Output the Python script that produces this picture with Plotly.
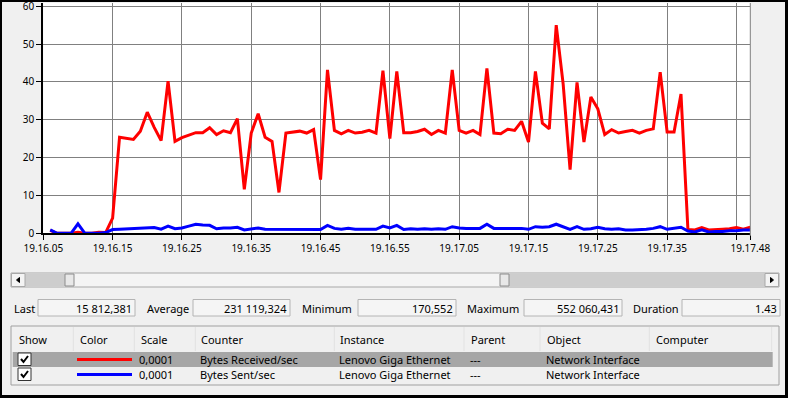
import plotly.graph_objects as go

W, H = 788, 398
def px(x): return x / W
def py(y): return 1 - y / H

# ---------------- data ----------------
seconds = list(range(1, 103))
bytes_received = [0.8, 0, 0, 0, 0.3, 0, 0, 0.3, 0.2, 4,
                  25.4, 25.2, 24.8, 27, 32, 28, 24.5, 40.2, 24.3, 25.3,
                  26, 26.6, 26.6, 27.9, 26.1, 27.1, 26.6, 30.3, 11.6, 26.5,
                  31.6, 25.4, 24.3, 10.8, 26.5, 26.8, 27, 26.5, 27.4, 14.2,
                  43.2, 27.2, 26.3, 27.2, 26.5, 26.7, 27.2, 26.5, 43, 25,
                  42.8, 26.6, 26.6, 26.9, 27.5, 26.1, 27.2, 26.5, 43.2, 27.2,
                  26.5, 27.2, 26.1, 43.6, 26.5, 26.3, 27.5, 27.2, 29.6, 24.1,
                  42.8, 29.1, 27.6, 55, 39.5, 16.8, 39.9, 24.1, 36, 32.9,
                  26.1, 27.4, 26.5, 26.9, 27.2, 26.5, 27.2, 27.6, 42.6, 26.8,
                  26.8, 36.8, 1.0, 0.9, 1.5, 0.9, 0.9, 1.1, 1.2, 1.5,
                  1.1, 1.6]
bytes_sent = [0.9, 0, 0, 0, 2.5, 0, 0, 0, 0.2, 1.0,
              1.1, 1.2, 1.3, 1.3, 1.5, 1.5, 1.1, 1.9, 1.2, 1.4,
              1.9, 2.4, 2.2, 2.1, 1.2, 1.4, 1.4, 1.6, 0.9, 1.2,
              1.4, 1.05, 1.05, 0.9, 0.9, 1.05, 1.05, 1.05, 1.05, 1.0,
              2.1, 1.3, 1.05, 1.3, 1.05, 1.05, 1.05, 1.05, 1.9, 1.4,
              2.1, 1.0, 1.2, 1.05, 1.2, 1.05, 1.2, 1.05, 1.75, 1.4,
              1.3, 1.3, 1.3, 2.4, 1.3, 1.3, 1.3, 1.3, 1.3, 1.05,
              1.75, 1.6, 1.75, 2.4, 1.75, 1.05, 1.75, 1.05, 1.2, 1.6,
              1.2, 1.05, 1.2, 0.9, 0.9, 0.9, 1.05, 1.3, 1.75, 1.05,
              1.3, 1.6, 0.6, 0.35, 0.9, 0.35, 0.5, 0.5, 0.7, 0.7,
              0.9, 0.9]

x_tick_vals = [0, 10, 20, 30, 40, 50, 60, 70, 80, 90, 100, 102]
x_tick_text = ["19.16.05", "19.16.15", "19.16.25", "19.16.35", "19.16.45",
               "19.16.55", "19.17.05", "19.17.15", "19.17.25", "19.17.35",
               "", "19.17.48"]
y_tick_vals = [0, 10, 20, 30, 40, 50, 60]

stats_labels = ["Last", "Average", "Minimum", "Maximum", "Duration"]
stats_values = ["15 812,381", "231 119,324", "170,552", "552 060,431", "1.43"]

table_headers = ["Show", "Color", "Scale", "Counter", "Instance", "Parent", "Object", "Computer"]
row_scale = ["0,0001", "0,0001"]
row_counter = ["Bytes Received/sec", "Bytes Sent/sec"]
row_instance = ["Lenovo Giga Ethernet", "Lenovo Giga Ethernet"]
row_parent = ["---", "---"]
row_object = ["Network Interface", "Network Interface"]
series_colors = ["#ff0000", "#0000ff"]

FONT = "Noto Sans"

fig = go.Figure()
fig.add_trace(go.Scatter(x=seconds, y=bytes_received, mode="lines",
                         line=dict(color=series_colors[0], width=3), hoverinfo="skip"))
fig.add_trace(go.Scatter(x=seconds, y=bytes_sent, mode="lines",
                         line=dict(color=series_colors[1], width=3), hoverinfo="skip"))

shapes = []
annotations = []

def rect(x0, y0, x1, y1, fill=None, line=None, lw=1):
    shapes.append(dict(type="rect", xref="paper", yref="paper",
                       x0=px(x0), x1=px(x1), y0=py(y1), y1=py(y0),
                       fillcolor=fill if fill else "rgba(0,0,0,0)",
                       line=dict(color=line if line else "rgba(0,0,0,0)", width=lw if line else 0),
                       layer="above"))

def vline(x, y0, y1, color, lw=1):
    shapes.append(dict(type="line", xref="paper", yref="paper",
                       x0=px(x), x1=px(x), y0=py(y0), y1=py(y1),
                       line=dict(color=color, width=lw), layer="above"))

def path(d_pts, color, fill=False, lw=1.5):
    d = "M " + " L ".join(f"{px(a)},{py(b)}" for a, b in d_pts)
    if fill:
        d += " Z"
    shapes.append(dict(type="path", xref="paper", yref="paper", path=d,
                       fillcolor=color if fill else "rgba(0,0,0,0)",
                       line=dict(color=color, width=lw), layer="above"))

def text(x, y, s, anchor="left", size=11):
    annotations.append(dict(xref="paper", yref="paper", x=px(x), y=py(y), text=s,
                            showarrow=False, xanchor=anchor, yanchor="middle",
                            font=dict(family=FONT, size=size, color="#000000"),
                            borderpad=0))

# right edge of plot
vline(750.3, 3, 236, "#808080", 1)

# ---------------- scrollbar ----------------
rect(11, 273, 779, 287, fill="#f4f4f4", line="#a8a8a8")
rect(25, 274, 65, 286, fill="#cdcdcd")
rect(509, 274, 765, 286, fill="#cdcdcd")
rect(65, 274, 74, 286, fill="#e8e8e8", line="#8c8c8c")
rect(500, 274, 509, 286, fill="#e8e8e8", line="#8c8c8c")
rect(11.5, 273.5, 25, 286.5, fill="#f4f4f4", line="#a8a8a8")
rect(765, 273.5, 778.5, 286.5, fill="#f4f4f4", line="#a8a8a8")
path([(19.5, 277.5), (16.5, 280), (19.5, 282.5)], "#000000", fill=True, lw=1)
path([(770.5, 277.5), (773.5, 280), (770.5, 282.5)], "#000000", fill=True, lw=1)

# ---------------- stats row ----------------
label_x = [13, 146, 301, 466, 632]
box_x = [(38, 135), (193, 290), (358, 456), (524, 622), (682, 780)]
for lab, val, lx, (b0, b1) in zip(stats_labels, stats_values, label_x, box_x):
    rect(b0, 299.5, b1, 316, fill="#f5f5f5", line="#b4b4b4")
    text(lx, 308, lab)
    text(b1 - 2, 308, val, anchor="right")

# ---------------- table ----------------
rect(11, 326, 779, 385, fill="#f0f0f0", line="#a0a0a0")
col_text_x = [19, 80, 141, 201, 340, 471, 547, 656]
sep_x = [73.3, 134.3, 195.3, 334.3, 464, 540, 649.3, 771.7]
for sx in sep_x:
    vline(sx, 327, 351, "#e2e2e2", 1)
for h, hx in zip(table_headers, col_text_x):
    text(hx - 1, 339, h)

row_y = [359.5, 374.5]
rect(12.7, 352, 772.7, 367, fill="#a6a6a6")
for i in range(2):
    ry = row_y[i]
    rect(18, ry - 6.5, 31, ry + 6, fill="#ffffff", line="#333333")
    path([(21, ry - 0.5), (23.5, ry + 2.5), (28, ry - 3.5)], "#000000", lw=2)
    rect(77, ry - 1.5, 132, ry + 1.5, fill=series_colors[i])
    text(138, ry, row_scale[i])
    text(199, ry, row_counter[i])
    text(338, ry, row_instance[i])
    text(469, ry, row_parent[i])
    text(545, ry, row_object[i])

# window frame (top, left, right, bottom bars)
rect(0, 0, 788, 2, fill="#000000")
rect(0, 0, 2, 398, fill="#000000")
rect(785, 0, 788, 398, fill="#000000")
rect(0, 395, 788, 398, fill="#000000")

fig.update_layout(
    width=W, height=H, autosize=False,
    margin=dict(l=0, r=0, t=0, b=0, pad=0, autoexpand=False),
    paper_bgcolor="#f0f0f0", plot_bgcolor="#ffffff",
    showlegend=False,
    font=dict(family=FONT, size=10, color="#000000"),
    shapes=shapes, annotations=annotations,
    xaxis=dict(domain=[px(43.3), px(750.3)], range=[0, 102], automargin=False,
               tickmode="array", tickvals=x_tick_vals, ticktext=x_tick_text,
               ticklabeloverflow="allow",
               showgrid=True, gridcolor="#808080", gridwidth=1,
               showline=True, linecolor="#000000", linewidth=2,
               ticks="outside", ticklen=5, tickcolor="#000000", tickwidth=1,
               tickfont=dict(family=FONT, size=10, color="#000000"),
               zeroline=False, fixedrange=True),
    yaxis=dict(domain=[py(233.3), py(3)], range=[0, 60.87], automargin=False,
               tickmode="array", tickvals=y_tick_vals,
               ticklabeloverflow="allow",
               showgrid=True, gridcolor="#808080", gridwidth=1,
               showline=True, linecolor="#000000", linewidth=2,
               ticks="outside", ticklen=5, tickcolor="#000000", tickwidth=1,
               tickfont=dict(family=FONT, size=10, color="#000000"),
               zeroline=False, fixedrange=True),
)

fig.write_html("out.html")
